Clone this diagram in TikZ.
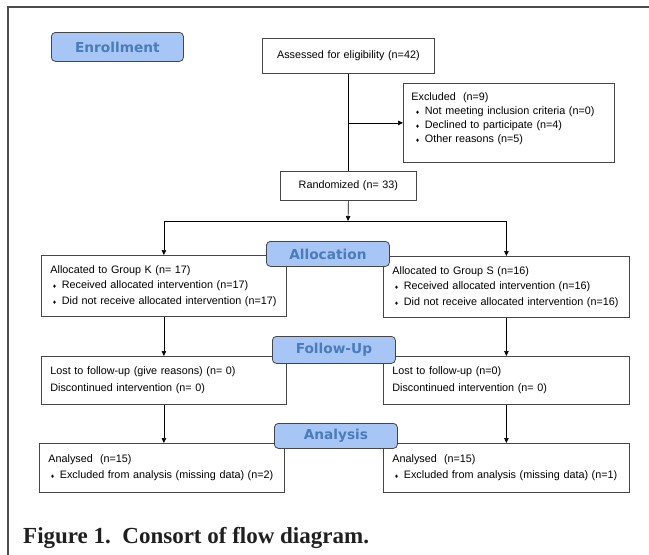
\documentclass[tikz,border=0pt]{standalone}
\usepackage{fontspec}
\setmainfont{Liberation Sans}
\newfontfamily\headfont{DejaVu Sans}
\newfontfamily\symfont{DejaVu Sans}
\newfontfamily\capfont{Liberation Serif}
\usetikzlibrary{arrows.meta, positioning}
\definecolor{headfill}{RGB}{168,198,245}
\definecolor{headtext}{RGB}{74,124,187}
\definecolor{edge}{RGB}{70,70,70}
\newcommand\dia{{\symfont\fontsize{5}{5}\selectfont ♦}}
\newcommand\itm[1][2pt]{\hspace*{#1}\dia\hspace{5pt}}
\tikzset{
  >={Triangle[length=5pt,width=4.5pt]},
  wire/.style ={line width=0.7pt},
  frame/.style={line width=1.1pt, draw=black!70},
  box/.style  ={rectangle, draw=edge, line width=0.8pt, anchor=north west,
                inner xsep=9pt, inner ysep=0pt, align=left,
                font=\fontsize{10.8}{15.5}\selectfont},
  phase/.style={rectangle, rounded corners=4pt, draw=edge, line width=0.8pt,
                fill=headfill, text=headtext, anchor=north west, inner sep=0pt,
                font=\headfont\bfseries\fontsize{13.7}{14}\selectfont},
}

\begin{document}
\begin{tikzpicture}[x=1pt, y=-1pt]
  % --- consort flow: enrolment, allocation, follow-up, analysis --------------
  \useasboundingbox (0,0) rectangle (649,555);
  \draw[frame] (8,555) |- (649,7);

  \node[box, align=center, text width=154pt, minimum height=35pt] (assess) at (262,38)
    {Assessed for eligibility (n=42)};
  \node[box, text width=195pt, inner xsep=8pt, minimum height=79pt,
        font=\fontsize{10.8}{14.3}\selectfont] (excl) at (403,83)
    {Excluded\ \ (n=9)\\ \itm[4pt]Not meeting inclusion criteria (n=0)\\
     \itm[4pt]Declined to participate (n=4)\\ \itm[4pt]Other reasons (n=5)\\[-8pt]\strut};
  \node[box, align=center, text width=118pt, minimum height=29pt] (rand) at (280,171)
    {Randomized (n= 33)};

  \node[box, text width=227pt, minimum height=61pt] (grpk) at (41,255)
    {Allocated to Group K (n= 17)\\ \itm Received allocated intervention (n=17)\\
     \itm Did not receive allocated intervention (n=17)};
  \node[box, text width=228pt, minimum height=61pt] (grps) at (383,256)
    {Allocated to Group S (n=16)\\ \itm Received allocated intervention (n=16)\\
     \itm Did not receive allocated intervention (n=16)};

  \node[box, text width=227pt, minimum height=48pt,
        font=\fontsize{10.8}{17}\selectfont] (lostk) at (41,356)
    {Lost to follow-up (give reasons) (n= 0)\\ Discontinued intervention (n= 0)};
  \node[box, text width=228pt, minimum height=48pt,
        font=\fontsize{10.8}{17}\selectfont] (losts) at (383,356)
    {Lost to follow-up (n=0)\\ Discontinued intervention (n= 0)};

  \node[box, text width=227pt, minimum height=49pt,
        font=\fontsize{10.8}{16}\selectfont] (anak) at (39,443)
    {Analysed\ \ (n=15)\\ \itm Excluded from analysis (missing data) (n=2)};
  \node[box, text width=228pt, minimum height=49pt,
        font=\fontsize{10.8}{16}\selectfont] (anas) at (383,443)
    {Analysed\ \ (n=15)\\ \itm Excluded from analysis (missing data) (n=1)};

  \coordinate (split) at (348,221);
  \draw[wire] (assess.south) -- (rand.north);
  \draw[wire,->] (assess.south |- excl.west) -- (excl.west);  % side exit to excluded
  \draw[wire,->] (rand.south) -- (split);
  \draw[wire] (grpk.north |- split) -- (grps.north |- split);
  \draw[wire,->] (grpk.north |- split) -- (grpk.north);
  \draw[wire,->] (grps.north |- split) -- (grps.north);
  \foreach \a/\b in {grpk/lostk, grps/losts, lostk/anak, losts/anas}
    \draw[wire,->] (\a.south) -- (\a.south |- \b.north);

  \node[phase, minimum width=132pt, minimum height=29pt] (enrol) at (51,32) {Enrollment};
  \node[phase, minimum width=123pt, minimum height=25pt] (alloc) at (266,241) {Allocation};
  \node[phase, minimum width=123pt, minimum height=27pt] (follow) at (272,336) {Follow-Up};
  \node[phase, minimum width=123pt, minimum height=25pt] (analysis) at (274,423) {Analysis};

  \node[anchor=base west, inner sep=0pt, text=black!88,
        font=\capfont\bfseries\fontsize{23}{23}\selectfont] (caption) at (23,543)
    {Figure 1.\ \ Consort of flow diagram.};
\end{tikzpicture}
\end{document}
